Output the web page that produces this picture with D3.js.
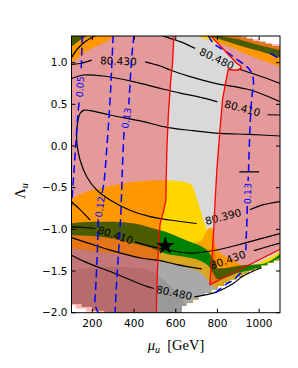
<!DOCTYPE html>
<html>
<head>
<meta charset="utf-8">
<script src="https://cdn.jsdelivr.net/npm/d3@7/dist/d3.min.js"></script>
<style>
  body { margin: 0; background: #fff; }
  text { font-family: "DejaVu Sans", sans-serif; }
</style>
</head>
<body>
<svg id="chart" width="298" height="368"></svg>
<script>
// ticks
const xTicks = [200, 400, 600, 800, 1000];
const yTicks = [-2.0, -1.5, -1.0, -0.5, 0.0, 0.5, 1.0];

// part of the plane that has scan points [mu, Lambda]
const domainEdge = [
  [100, 1.32], [909, 1.32], [909, 1.3], [940, 1.3], [940, 1.28], [970, 1.28], [970, 1.26],
  [1000, 1.26], [1000, 1.24], [1030, 1.24], [1030, 1.22], [1060, 1.22], [1060, 1.2], [1100, 1.2],
  [1100, -1.37], [1070, -1.37], [1070, -1.4], [1040, -1.4], [1040, -1.43], [1010, -1.43],
  [1010, -1.47], [980, -1.47], [980, -1.5], [950, -1.5], [950, -1.53], [920, -1.53],
  [920, -1.57], [890, -1.57], [890, -1.6], [860, -1.6], [860, -1.64], [830, -1.64],
  [830, -1.68], [800, -1.68], [800, -1.72], [770, -1.72], [770, -1.76], [740, -1.76],
  [740, -1.8], [710, -1.8], [710, -1.84], [680, -1.84], [680, -1.88], [650, -1.88],
  [650, -1.92], [630, -1.92], [630, -2.0],
  [260, -2.0], [260, -1.97], [200, -1.97], [200, -1.93], [150, -1.93], [150, -1.89], [100, -1.89]
];
// the red shading reaches one grid step further out
const shadeEdge = [
  [100, 1.32], [940, 1.32], [940, 1.3], [970, 1.3], [970, 1.28], [1000, 1.28], [1000, 1.26],
  [1030, 1.26], [1030, 1.24], [1060, 1.24], [1060, 1.22], [1100, 1.22],
  [1100, -2.0], [230, -2.0], [230, -1.99], [170, -1.99], [170, -1.95], [120, -1.95], [120, -1.91], [100, -1.91]
];

// filled bands: each colour fills everything below its edge
const bandYellow = [[100, -0.63], [170, -0.55], [285, -0.48], [400, -0.43], [525, -0.41], [560, -0.41],
  [640, -0.43], [677, -0.47], [700, -0.62], [720, -0.78], [741, -0.95], [760, -1.05], [775, -1.12],
  [800, -1.25], [870, -1.36], [941, -1.45], [1000, -1.4], [1100, -1.27]];
const bandOrange = [[100, -0.93], [200, -0.91], [300, -0.91], [400, -0.93], [480, -0.98], [550, -1.03],
  [620, -1.1], [680, -1.16], [720, -1.14], [748, -1.02], [765, -0.98], [782, -1.0], [790, -1.3],
  [800, -1.47], [925, -1.43], [1010, -1.42], [1100, -1.3]];
const bandGreen = [[100, -0.93], [200, -0.91], [300, -0.91], [400, -0.93], [480, -0.98], [550, -1.03],
  [620, -1.1], [680, -1.16], [720, -1.2], [760, -1.28], [785, -1.38], [800, -1.47], [925, -1.43],
  [1010, -1.42], [1100, -1.3]];
const bandGold = [[100, -1.07], [200, -1.08], [300, -1.11], [400, -1.17], [480, -1.22], [550, -1.29],
  [640, -1.33], [720, -1.38], [760, -1.45], [785, -1.55], [800, -1.6], [900, -1.52], [1000, -1.46],
  [1100, -1.34]];
const bandGray = [[100, -1.23], [200, -1.26], [300, -1.29], [400, -1.32], [500, -1.37], [560, -1.4],
  [640, -1.45], [720, -1.52], [760, -1.62], [790, -1.7], [900, -1.58], [1000, -1.5], [1100, -1.37]];
const bandDim = [[100, -1.5], [200, -1.46], [300, -1.45], [400, -1.46], [480, -1.5], [540, -1.6],
  [600, -1.75], [650, -1.92], [680, -2.1]];
const lowerBands = [bandYellow, bandOrange, bandGreen, bandGold, bandGray, bandDim];
const lowerColors = ["#ffd700", "#ffa500", "#008000", "#daa520", "#a9a9a9", "#999999"];

// bands in the two upper corners: each colour fills everything above its edge
const cornerYellow = [[100, 1.0], [190, 1.16], [300, 1.32], [330, 1.5], [680, 1.5], [705, 1.33],
  [760, 1.27], [850, 1.2], [960, 1.08], [1100, 0.95]];
const cornerGreen = [[100, 1.19], [140, 1.27], [175, 1.33], [190, 1.5], [720, 1.5], [740, 1.33],
  [800, 1.29], [900, 1.21], [1000, 1.14], [1100, 1.06]];
const cornerGold = [[100, 1.5], [790, 1.5], [810, 1.33], [900, 1.28], [1000, 1.21], [1100, 1.15]];
const upperBands = [cornerYellow, cornerGreen, cornerGold];
const upperColors = ["#ffd700", "#008000", "#daa520"];

// red boundaries of the allowed strip
const redLeft = [[591, 1.33], [585, 1.0], [576, 0.79], [565, 0.4], [558, 0.0], [554, -0.4], [553, -0.65],
  [540, -0.8], [525, -0.93], [518, -1.2], [512, -1.5], [508, -1.8], [507, -2.01]];
const redRight = [[765, 1.33], [893, 0.99], [909, 0.965], [914, 0.935], [900, 0.912], [875, 0.912],
  [852, 0.92], [838, 0.75], [824, 0.55], [810, 0.13], [797, -0.29], [789, -0.65], [782, -1.0],
  [775, -1.3], [768, -1.5], [764, -1.665], [1100, -1.24]];

// black contours of m_W, split where the label sits
const mw430top = [[[100, 0.98], [141, 0.99], [197, 1.03]],
  [[453, 1.01], [525, 0.96], [573, 0.912], [669, 0.832], [789, 0.752], [957, 0.672], [1100, 0.532]]];
const mw410top = [[[100, 0.81], [157, 0.852], [253, 0.84], [397, 0.772], [525, 0.692], [621, 0.635],
  [700, 0.595], [800, 0.53]], [[1040, 0.375], [1100, 0.372]]];
const mw480top = [[[530, 1.33], [573, 1.292], [621, 1.252], [693, 1.172]],
  [[901, 0.924], [989, 0.852], [1100, 0.752]]];
const mw390 = [[[1100, 0.12], [950, 0.14], [813, 0.152], [685, 0.184], [557, 0.224], [445, 0.292],
  [285, 0.372], [190, 0.425], [160, 0.43], [141, 0.39], [127, 0.232], [126, 0.032], [141, -0.168],
  [173, -0.368], [221, -0.528], [285, -0.648], [380, -0.77], [477, -0.848], [573, -0.888], [700, -0.93]],
  [[955, -0.765], [1005, -0.715], [1100, -0.668]]];
const mw410low = [[[100, -0.97], [150, -0.975], [215, -0.99]],
  [[405, -1.15], [480, -1.205], [560, -1.245], [669, -1.285], [797, -1.248], [925, -1.168], [1100, -1.05]]];
const mw430low = [[[100, -1.1], [200, -1.18], [285, -1.25], [445, -1.35], [525, -1.375], [600, -1.42],
  [725, -1.475]], [[975, -1.255], [1050, -1.2], [1100, -1.165]]];
const mw480low = [[[100, -1.31], [165, -1.39], [300, -1.52], [445, -1.67], [495, -1.71]],
  [[690, -1.81], [797, -1.75], [870, -1.66], [923, -1.56], [1010, -1.46]]];
const mwCorner = [[[100, 1.06], [130, 1.17], [170, 1.26], [220, 1.33]]];
const mwShort = [[[100, -0.668], [140, -0.76], [189, -0.888]]];
const mwBit = [[[905, -0.31], [1000, -0.31]]];
const blackContours = [mw430top, mw410top, mw480top, mw390, mw410low, mw430low, mw480low, mwCorner, mwShort, mwBit];
const blackLabels = ["80.430", "80.410", "80.480", "80.390", "80.410", "80.430", "80.480", "", "", ""];

// blue dashed contours
const b005 = [[[152, 1.33], [149, 1.1], [146, 0.9]],
  [[136, 0.52], [128, 0.3], [120, 0.0], [112, -0.3], [105, -0.55], [100, -0.72]]];
const b012 = [[[300, 1.33], [292, 0.9], [285, 0.55], [270, 0.0], [255, -0.45], [245, -0.58]],
  [[228, -0.88], [225, -1.2], [220, -1.5], [215, -1.75], [213, -1.88], [222, -1.97], [238, -2.03]]];
const b013a = [[[400, 1.33], [390, 1.1], [382, 0.8], [375, 0.5]],
  [[352, 0.17], [345, -0.2], [341, -0.5], [335, -0.9], [325, -1.3], [315, -1.7], [309, -2.01]]];
const b013b = [[[755, 1.33], [781, 1.232], [829, 1.152], [909, 1.012], [950, 0.93], [968, 0.85], [973, 0.75],
  [965, 0.59], [957, 0.27], [949, -0.29], [947, -0.42]],
  [[943, -0.72], [941, -0.93], [938, -1.1], [936, -1.25]],
  [[912, -1.52], [880, -1.6], [840, -1.66], [805, -1.73], [780, -1.78]]];
const bEdge = [[[1055, 1.11], [1100, 1.04]]];
const blueContours = [b005, b012, b013a, b013b, bEdge];
const blueLabels = ["0.05", "0.12", "0.13", "0.13", ""];

const bestPoint = [550, -1.2];

const svg = d3.select("#chart");
const pLeft = 71.5, pRight = 280, pTop = 36, pBottom = 312.7;
const x = d3.scaleLinear().domain([100, 1100]).range([pLeft, pRight]);
const y = d3.scaleLinear().domain([-2, 1.32]).range([pBottom, pTop]);

const defs = svg.append("defs");
defs.append("clipPath").attr("id", "plotClip")
  .append("rect").attr("x", pLeft).attr("y", pTop).attr("width", pRight - pLeft).attr("height", pBottom - pTop);
const polyLine = d3.line().x(d => x(d[0])).y(d => y(d[1]));
defs.append("clipPath").attr("id", "domainClip")
  .append("path").attr("d", polyLine(domainEdge) + "Z");
defs.append("clipPath").attr("id", "shadeClip")
  .append("path").attr("d", polyLine(shadeEdge) + "Z");

// filled map
const fills = svg.append("g").attr("clip-path", "url(#domainClip)");
fills.append("rect").attr("x", pLeft).attr("y", pTop).attr("width", pRight - pLeft).attr("height", pBottom - pTop)
  .attr("fill", "#d9d9d9");
const below = d3.area().x(d => x(d[0])).y0(pBottom + 20).y1(d => y(d[1])).curve(d3.curveMonotoneX);
const above = d3.area().x(d => x(d[0])).y0(pTop - 20).y1(d => y(d[1])).curve(d3.curveMonotoneX);
lowerBands.forEach((b, i) => fills.append("path").attr("d", below(b)).attr("fill", lowerColors[i]));
upperBands.forEach((b, i) => fills.append("path").attr("d", above(b)).attr("fill", upperColors[i]));

// red shading outside the allowed strip
const allowed = redLeft.concat([[507, -2.3], [1150, -2.3], [1150, -1.24]], redRight.slice().reverse(), [[765, 1.5], [591, 1.5]]);
const outer = [[50, 1.6], [1150, 1.6], [1150, -2.5], [50, -2.5]];
svg.append("path")
  .attr("clip-path", "url(#shadeClip)")
  .attr("d", polyLine(outer) + "Z" + polyLine(allowed) + "Z")
  .attr("fill-rule", "evenodd")
  .attr("fill", "#ff0000")
  .attr("fill-opacity", 0.29);

const lines = svg.append("g").attr("clip-path", "url(#plotClip)");
const smooth = d3.line().x(d => x(d[0])).y(d => y(d[1])).curve(d3.curveCatmullRom.alpha(0.5));

function drawContour(pieces, label, color, dash) {
  pieces.forEach(p => {
    lines.append("path").attr("d", smooth(p)).attr("fill", "none")
      .attr("stroke", color).attr("stroke-width", dash ? 1.5 : 1.2)
      .attr("stroke-dasharray", dash);
  });
  if (!label) return;
  const a = pieces[0][pieces[0].length - 1], b = pieces[1][0];
  const ax = x(a[0]), ay = y(a[1]), bx = x(b[0]), by = y(b[1]);
  let ang = Math.atan2(by - ay, bx - ax) * 180 / Math.PI;
  if (ang > 90) ang -= 180;
  if (ang < -90) ang += 180;
  lines.append("text")
    .attr("transform", `translate(${(ax + bx) / 2},${(ay + by) / 2}) rotate(${ang})`)
    .attr("text-anchor", "middle").attr("dy", "0.36em")
    .attr("font-size", dash ? "9.5px" : "10.5px")
    .attr("fill", color)
    .text(label);
}

blackContours.forEach((c, i) => drawContour(c, blackLabels[i], "#000", null));
blueContours.forEach((c, i) => drawContour(c, blueLabels[i], "#0000ff", "8,4.5"));

[redLeft, redRight].forEach(r => {
  lines.append("path").attr("d", polyLine(r)).attr("fill", "none")
    .attr("stroke", "#ff0000").attr("stroke-width", 1.3);
});

lines.append("path")
  .attr("d", d3.symbol(d3.symbolStar).size(105)())
  .attr("transform", `translate(${x(bestPoint[0])},${y(bestPoint[1])})`)
  .attr("fill", "#000");

// frame and inward ticks on all sides
svg.append("rect").attr("x", pLeft).attr("y", pTop).attr("width", pRight - pLeft).attr("height", pBottom - pTop)
  .attr("fill", "none").attr("stroke", "#000").attr("stroke-width", 1);
const ticks = svg.append("g").attr("stroke", "#000").attr("stroke-width", 1);
xTicks.forEach(t => {
  ticks.append("line").attr("x1", x(t)).attr("x2", x(t)).attr("y1", pBottom).attr("y2", pBottom - 4);
  ticks.append("line").attr("x1", x(t)).attr("x2", x(t)).attr("y1", pTop).attr("y2", pTop + 4);
});
yTicks.forEach(t => {
  ticks.append("line").attr("x1", pLeft).attr("x2", pLeft + 4).attr("y1", y(t)).attr("y2", y(t));
  ticks.append("line").attr("x1", pRight).attr("x2", pRight - 4).attr("y1", y(t)).attr("y2", y(t));
});

const fmtY = v => (v < 0 ? "\u2212" : "") + Math.abs(v).toFixed(1);
svg.append("g").selectAll("text").data(xTicks).enter().append("text")
  .attr("x", d => x(d)).attr("y", pBottom + 14).attr("text-anchor", "middle")
  .attr("font-size", "10.5px").text(d => d);
svg.append("g").selectAll("text").data(yTicks).enter().append("text")
  .attr("x", pLeft - 4).attr("y", d => y(d)).attr("dy", "0.36em").attr("text-anchor", "end")
  .attr("font-size", "10.5px").text(fmtY);

// axis titles
const xl = svg.append("text").attr("x", 176).attr("y", 350).attr("text-anchor", "middle")
  .style("font-family", "'Liberation Serif', serif").attr("font-size", "14.5px");
xl.append("tspan").attr("font-style", "italic").text("\u03bc");
xl.append("tspan").attr("font-style", "italic").attr("font-size", "10px").attr("dy", 3).text("u");
xl.append("tspan").attr("dy", -3).text("\u2002[GeV]");

const yl = svg.append("text").attr("transform", "translate(25,191) rotate(-90)").attr("text-anchor", "middle")
  .style("font-family", "'Liberation Serif', serif").attr("font-size", "14.5px");
yl.append("tspan").text("\u039b");
yl.append("tspan").attr("font-style", "italic").attr("font-size", "10px").attr("dy", 3).text("u");
</script>
</body>
</html>
